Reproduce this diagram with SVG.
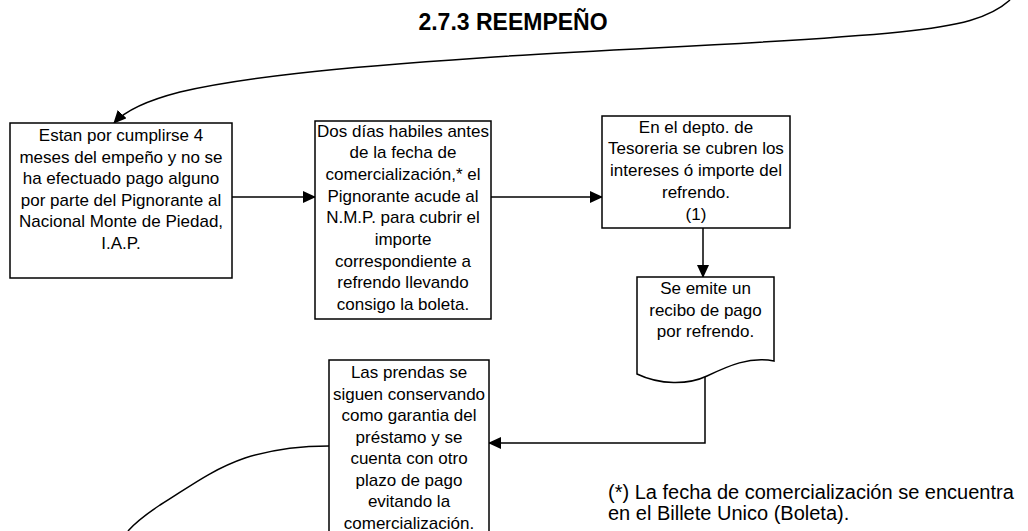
<svg xmlns="http://www.w3.org/2000/svg" width="1028" height="531" viewBox="0 0 1028 531">
<style>
.box{fill:#fff;stroke:#000;stroke-width:1.5}
.t{font-family:"Liberation Sans",Arial,sans-serif;font-size:17px;fill:#000;text-anchor:middle}
.ttl{font-family:"Liberation Sans",Arial,sans-serif;font-size:23px;font-weight:bold;fill:#000;text-anchor:middle}
.fn{font-family:"Liberation Sans",Arial,sans-serif;font-size:20px;fill:#000}
.c{fill:none;stroke:#000;stroke-width:1.5}
</style>
<defs>
<marker id="ah" markerWidth="13" markerHeight="12" refX="12" refY="6" orient="auto" markerUnits="userSpaceOnUse">
<path d="M0,0 L13,6 L0,12 Z" fill="#000"/>
</marker>
</defs>
<text class="ttl" x="513" y="30">2.7.3 REEMPEÑO</text>
<g id="connectors">
<path class="c" d="M1010,0 C990,18 960,26 900,32 C780,44 620,48 480,58 C330,68 240,78 180,92 C145,101 125,111 114,123" marker-end="url(#ah)"/>
<path class="c" d="M232,197 H315" marker-end="url(#ah)"/>
<path class="c" d="M491,197 H602" marker-end="url(#ah)"/>
<path class="c" d="M703,228 V277" marker-end="url(#ah)"/>
<path class="c" d="M705,377 V443 H489" marker-end="url(#ah)"/>
<path class="c" d="M329,446 C300,446 270,450 245,458 C210,470 185,490 160,505 C145,515 135,523 128,531"/>
</g>
<g id="box1">
<rect class="box" x="10" y="123" width="222" height="155"/>
<text class="t" x="121" y="141">Estan por cumplirse 4</text>
<text class="t" x="121" y="162.5">meses del empeño y no se</text>
<text class="t" x="121" y="184">ha efectuado pago alguno</text>
<text class="t" x="121" y="205.5">por parte del Pignorante al</text>
<text class="t" x="121" y="227">Nacional Monte de Piedad,</text>
<text class="t" x="121" y="248.5">I.A.P.</text>
</g>
<g id="box2">
<rect class="box" x="315" y="121" width="176" height="198"/>
<text class="t" x="403" y="136.5">Dos días habiles antes</text>
<text class="t" x="403" y="158.2">de la fecha de</text>
<text class="t" x="403" y="179.9">comercialización,* el</text>
<text class="t" x="403" y="201.6">Pignorante acude al</text>
<text class="t" x="403" y="223.3">N.M.P. para cubrir el</text>
<text class="t" x="403" y="245">importe</text>
<text class="t" x="403" y="266.7">correspondiente a</text>
<text class="t" x="403" y="288.4">refrendo llevando</text>
<text class="t" x="403" y="310.1">consigo la boleta.</text>
</g>
<g id="box3">
<rect class="box" x="602" y="116" width="188" height="112"/>
<text class="t" x="696" y="132.5">En el depto. de</text>
<text class="t" x="696" y="154">Tesoreria se cubren los</text>
<text class="t" x="696" y="176">intereses ó importe del</text>
<text class="t" x="696" y="198">refrendo.</text>
<text class="t" x="696" y="220">(1)</text>
</g>
<g id="doc">
<path class="box" d="M637,277 H774 V361 C750,356 728,366 707,376 C688,385 660,385 637,374 Z"/>
<text class="t" x="705.5" y="294">Se emite un</text>
<text class="t" x="705.5" y="316">recibo de pago</text>
<text class="t" x="705.5" y="337">por refrendo.</text>
</g>
<g id="box5">
<rect class="box" x="329" y="360" width="160" height="185"/>
<text class="t" x="409" y="378">Las prendas se</text>
<text class="t" x="409" y="399.5">siguen conservando</text>
<text class="t" x="409" y="421">como garantia del</text>
<text class="t" x="409" y="442.5">préstamo y se</text>
<text class="t" x="409" y="464">cuenta con otro</text>
<text class="t" x="409" y="485.5">plazo de pago</text>
<text class="t" x="409" y="507">evitando la</text>
<text class="t" x="409" y="528.5">comercialización.</text>
</g>
<g id="footnote">
<text class="fn" x="608" y="499">(*) La fecha de comercialización se encuentra</text>
<text class="fn" x="608" y="520">en el Billete Unico (Boleta).</text>
</g>
</svg>
